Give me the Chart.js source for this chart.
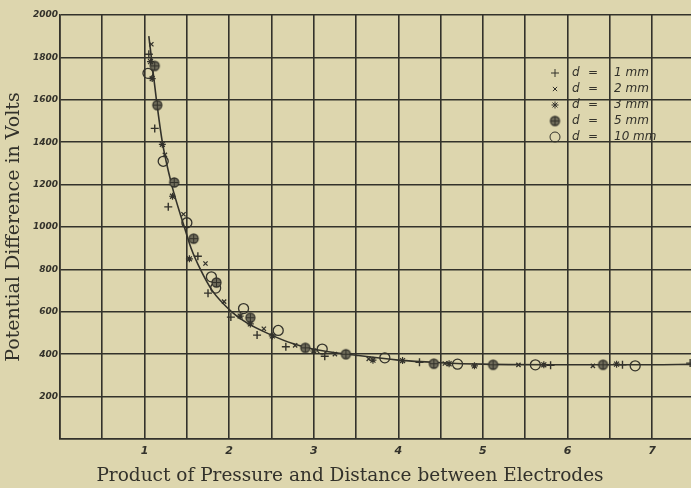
<!DOCTYPE html>
<html>
<head>
<meta charset="utf-8">
<script src="https://cdn.jsdelivr.net/npm/chart.js@4"></script>
<style>
  html, body { margin: 0; padding: 0; background: #ddd6ae; }
  canvas { display: block; }
</style>
</head>
<body>
<canvas id="grafica" width="691" height="488"></canvas>
<script>
// Lecturas de la figura: producto presion x distancia (x) contra voltaje (y)
const serie1mm = [
  [1.05, 1815], [1.12, 1465], [1.28, 1095], [1.63, 862], [1.75, 688],
  [2.02, 575], [2.33, 490], [2.67, 435], [3.13, 390], [4.25, 362],
  [5.80, 348], [6.65, 350], [7.45, 358]
];
const serie2mm = [
  [1.08, 1862], [1.24, 1340], [1.46, 1060], [1.72, 828], [1.94, 648],
  [2.41, 520], [2.78, 442], [3.25, 400], [3.65, 378], [4.55, 356],
  [5.42, 350], [6.30, 345]
];
const serie3mm = [
  [1.07, 1780], [1.09, 1700], [1.21, 1390], [1.33, 1145], [1.53, 850],
  [2.13, 580], [2.25, 543], [2.51, 486], [3.00, 415], [3.70, 372],
  [4.05, 370], [4.60, 355], [4.90, 345], [5.72, 350], [6.58, 353]
];
const serie5mm = [
  [1.12, 1760], [1.15, 1575], [1.35, 1210], [1.58, 945], [1.85, 738],
  [2.25, 572], [2.90, 430], [3.38, 400], [4.42, 355], [5.12, 350], [6.42, 350]
];
const serie10mm = [
  [1.04, 1725], [1.22, 1310], [1.50, 1020], [1.79, 765], [1.84, 712],
  [2.17, 615], [2.58, 512], [3.10, 424], [3.84, 383], [4.70, 353],
  [5.62, 350], [6.80, 345]
];
// Curva suavizada dibujada a mano en el original
const curva = [
  [1.05, 1900], [1.08, 1800], [1.14, 1600], [1.21, 1400], [1.32, 1200],
  [1.47, 1000], [1.55, 900], [1.66, 800], [1.80, 700], [2.03, 600],
  [2.20, 550], [2.50, 490], [2.75, 450], [3.00, 423], [3.50, 395],
  [4.00, 372], [4.50, 360], [5.00, 353], [6.00, 350], [7.00, 350], [7.46, 352]
];

const etiquetasLeyenda = ['1 mm', '2 mm', '3 mm', '5 mm', '10 mm'];
const lineasX = [0, 0.5, 1, 1.5, 2, 2.5, 3, 3.5, 4, 4.5, 5, 5.5, 6, 6.5, 7];
const etiquetasX = [1, 2, 3, 4, 5, 6, 7];
const lineasY = [0, 200, 400, 600, 800, 1000, 1200, 1400, 1600, 1800, 2000];
const etiquetasY = [200, 400, 600, 800, 1000, 1200, 1400, 1600, 1800, 2000];
const tituloX = 'Product of Pressure and Distance between Electrodes';
const tituloY = 'Potential Difference in Volts';

const tinta = '#33322b';
const papel = '#ddd6ae';

// Simbolo de circulo con cruz para d = 5 mm
function circuloCruz(r) {
  const c = document.createElement('canvas');
  const s = Math.ceil(r * 2 + 4);
  c.width = c.height = s;
  const g = c.getContext('2d');
  const m = s / 2;
  g.fillStyle = '#6e6b5a';
  g.strokeStyle = tinta;
  g.lineWidth = 1.3;
  g.beginPath();
  g.arc(m, m, r, 0, Math.PI * 2);
  g.fill();
  g.stroke();
  g.lineWidth = 1;
  g.beginPath();
  g.moveTo(m - r, m); g.lineTo(m + r, m);
  g.moveTo(m, m - r); g.lineTo(m, m + r);
  g.stroke();
  return c;
}

const estilos = [
  { pointStyle: 'cross', radius: 4, borderWidth: 1.4 },
  { pointStyle: 'crossRot', radius: 3, borderWidth: 1.3 },
  { pointStyle: 'star', radius: 3.5, borderWidth: 1.2 },
  { pointStyle: circuloCruz(4.5), radius: 4.5, borderWidth: 1 },
  { pointStyle: 'circle', radius: 5, borderWidth: 1.3 }
];

const series = [serie1mm, serie2mm, serie3mm, serie5mm, serie10mm];
const aPuntos = arr => arr.map(p => ({ x: p[0], y: p[1] }));

const datasets = series.map((s, i) => ({
  label: 'd = ' + etiquetasLeyenda[i],
  data: aPuntos(s),
  pointStyle: estilos[i].pointStyle,
  pointRadius: estilos[i].radius,
  pointBorderWidth: estilos[i].borderWidth,
  pointBorderColor: tinta,
  pointBackgroundColor: 'rgba(0,0,0,0)',
  showLine: false,
  order: 1
}));
datasets.push({
  label: 'curva',
  data: aPuntos(curva),
  showLine: true,
  borderColor: tinta,
  borderWidth: 1.6,
  pointRadius: 0,
  cubicInterpolationMode: 'monotone',
  order: 2
});

// Fondo color papel
const fondo = {
  id: 'fondo',
  beforeDraw(chart) {
    const ctx = chart.ctx;
    ctx.save();
    ctx.fillStyle = papel;
    ctx.fillRect(0, 0, chart.width, chart.height);
    ctx.restore();
  }
};

// Leyenda dentro del area de la grafica y titulo del eje x
const leyenda = {
  id: 'leyenda',
  afterDraw(chart) {
    const ctx = chart.ctx;
    const izq = chart.chartArea.left;
    ctx.save();
    ctx.textBaseline = 'middle';
    etiquetasLeyenda.forEach((t, i) => {
      const y = 73 + i * 16;
      ctx.fillStyle = 'rgba(0,0,0,0)';
      ctx.strokeStyle = tinta;
      Chart.helpers.drawPoint(ctx, {
        pointStyle: estilos[i].pointStyle,
        radius: estilos[i].radius,
        borderWidth: estilos[i].borderWidth,
        rotation: 0
      }, izq + 495, y);
      ctx.fillStyle = tinta;
      ctx.font = 'italic 12px "DejaVu Sans"';
      ctx.fillText('d', izq + 512, y);
      ctx.fillText('=', izq + 528, y);
      ctx.fillText(t, izq + 554, y);
    });
    ctx.font = '18.5px "DejaVu Serif"';
    ctx.textAlign = 'center';
    ctx.fillText(tituloX, 350, chart.chartArea.bottom + 37);
    ctx.restore();
  }
};

new Chart(document.getElementById('grafica'), {
  type: 'scatter',
  data: { datasets },
  options: {
    responsive: false,
    animation: false,
    layout: { autoPadding: false, padding: { top: 15, right: 0, left: 0, bottom: 0 } },
    plugins: { legend: { display: false }, tooltip: { enabled: false } },
    elements: { point: { borderColor: tinta } },
    scales: {
      x: {
        type: 'linear',
        min: 0,
        max: 7.46,
        afterBuildTicks: s => { s.ticks = lineasX.map(v => ({ value: v })); },
        afterFit: s => { s.height = 49; s.paddingRight = 0; s.paddingLeft = 0; },
        grid: { color: tinta, lineWidth: 1.6, drawTicks: false },
        border: { color: tinta, width: 1.6 },
        ticks: {
          autoSkip: false,
          maxRotation: 0,
          padding: 6,
          color: tinta,
          font: { family: '"DejaVu Sans"', size: 11, style: 'italic', weight: 'bold' },
          callback: v => etiquetasX.includes(v) ? String(v) : ''
        },
        title: { display: false }
      },
      y: {
        min: 0,
        max: 2000,
        afterBuildTicks: s => { s.ticks = lineasY.map(v => ({ value: v })); },
        afterFit: s => { s.width = 60; },
        grid: { color: tinta, lineWidth: 1.6, drawTicks: false },
        border: { color: tinta, width: 1.6 },
        ticks: {
          autoSkip: false,
          padding: 2,
          color: tinta,
          font: { family: '"DejaVu Sans"', size: 9, style: 'italic', weight: 'bold' },
          callback: v => etiquetasY.includes(v) ? String(v) : ''
        },
        title: {
          display: true,
          text: tituloY,
          color: tinta,
          font: { family: '"DejaVu Serif"', size: 19 },
          padding: { top: 3, bottom: 0 }
        }
      }
    }
  },
  plugins: [fondo, leyenda]
});
</script>
</body>
</html>
